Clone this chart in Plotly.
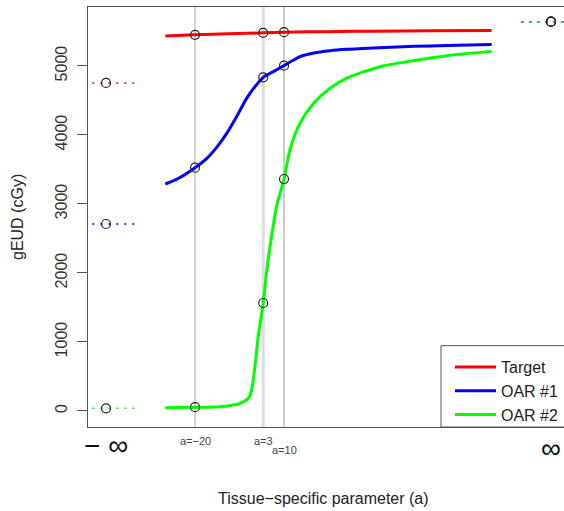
import plotly.graph_objects as go

# ---------------- data ----------------
target_a = [-30, -20, 3, 10, 25, 40, 60, 80]
target_v = [5435, 5452, 5480, 5490, 5498, 5505, 5510, 5515]

oar1_a = [-30, -26, -20, -16, -12.7, -9.3, -6, -2.6, 0.2, 3, 6.4, 10,
          15.4, 20, 25.5, 31, 42, 54, 65, 80]
oar1_v = [3290, 3362, 3526, 3662, 3821, 4024, 4265, 4531, 4700, 4836, 4918, 5005,
          5135, 5188, 5222, 5242, 5266, 5286, 5296, 5312]

oar2_a = [-30, -20, -11.6, -4.8, -2, -0.9, 0.2, 1.3, 3, 4.2, 5.8, 7.5, 10,
          12, 15.4, 20, 25.5, 31, 42.4, 54, 65, 80]
oar2_v = [48, 55, 62, 110, 184, 304, 642, 1077, 1565, 2043, 2526, 2961, 3362,
          3783, 4170, 4459, 4677, 4822, 4990, 5080, 5150, 5212]

ref_a = [-20, 3, 10]
ref_labels = ["a=\u221220", "a=3", "a=10"]
target_ref = [5452, 5480, 5490]
oar1_ref = [3526, 4836, 5005]
oar2_ref = [55, 1565, 3362]

neg_inf_pos = -50
pos_inf_pos = 100
neg_inf_vals = [4754, 2710, 39]     # Target, OAR #1, OAR #2 at a = -inf
pos_inf_vals = [5642, 5642, 5642]   # Target, OAR #1, OAR #2 at a = +inf
neg_seg = [-60, -40]
pos_seg = [90, 110]

names = ["Target", "OAR #1", "OAR #2"]
colors = ["#ff0000", "#0000ff", "#00ff00"]

y_ticks = [0, 1000, 2000, 3000, 4000, 5000]
x_range = [-56.07, 104.38]
y_range = [-232, 5855]

FONT = "Liberation Sans, Arial, Helvetica, sans-serif"

fig = go.Figure()

# reference vertical lines
for a, w, c in zip(ref_a, [1.5, 3, 1.5], ["#c4c4c4", "#dedede", "#bcbcbc"]):
    fig.add_vline(x=a, line=dict(color=c, width=w), layer="below")

curves = [(target_a, target_v), (oar1_a, oar1_v), (oar2_a, oar2_v)]
for (xa, yv), n, c in zip(curves, names, colors):
    fig.add_trace(go.Scatter(x=xa, y=yv, mode="lines", name=n,
                             line=dict(color=c, width=3, shape="spline", smoothing=0.7)))

# dotted limits at -inf and +inf
for i, c in enumerate(colors):
    fig.add_trace(go.Scatter(x=neg_seg, y=[neg_inf_vals[i]] * 2, mode="lines",
                             line=dict(color=c, width=1.5, dash="2px,6px"),
                             showlegend=False, hoverinfo="skip"))
    fig.add_trace(go.Scatter(x=pos_seg, y=[pos_inf_vals[i]] * 2, mode="lines",
                             line=dict(color=c, width=1.5, dash="2px,6px"),
                             showlegend=False, hoverinfo="skip"))

# circles
refs = [target_ref, oar1_ref, oar2_ref]
for i in range(3):
    fig.add_trace(go.Scatter(
        x=ref_a + [neg_inf_pos, pos_inf_pos],
        y=refs[i] + [neg_inf_vals[i], pos_inf_vals[i]],
        mode="markers",
        marker=dict(symbol="circle-open", size=9, color="#222",
                    line=dict(color="#222", width=1.2)),
        showlegend=False, hoverinfo="skip"))

# x-axis labels
annos = []
for a, t in zip(ref_a, ref_labels):
    yoff = -0.0548 if t == "a=10" else -0.0333
    annos.append(dict(x=a, y=yoff, xref="x", yref="paper", text=t, showarrow=False,
                      font=dict(size=11, color="#444", family=FONT),
                      xanchor="center", yanchor="middle"))
annos.append(dict(x=neg_inf_pos, y=-0.043, xref="x", yref="paper", text="\u2212 \u221e",
                  showarrow=False, font=dict(size=28, color="#111", family=FONT),
                  xanchor="center", yanchor="middle"))
annos.append(dict(x=pos_inf_pos, y=-0.052, xref="x", yref="paper", text="\u221e",
                  showarrow=False, font=dict(size=28, color="#111", family=FONT),
                  xanchor="center", yanchor="middle"))
annos.append(dict(x=(323 - 88) / 476, y=-(498 - 427) / 420, xref="paper", yref="paper",
                  text="Tissue\u2212specific parameter (a)", showarrow=False,
                  font=dict(size=16, color="#222", family=FONT),
                  xanchor="center", yanchor="middle"))
annos.append(dict(x=(17 - 88) / 476, y=0.5, xref="paper", yref="paper",
                  text="gEUD (cGy)", textangle=-90, showarrow=False,
                  font=dict(size=16, color="#222", family=FONT),
                  xanchor="center", yanchor="middle"))

# legend box
fig.add_shape(type="rect", xref="paper", yref="paper",
              x0=(441 - 88) / 476, x1=1.2, y0=0, y1=(427 - 345.7) / 420,
              line=dict(color="#555", width=1), fillcolor="white", layer="above")

fig.update_layout(
    width=564, height=511,
    margin=dict(l=88, r=0, t=7, b=84),
    paper_bgcolor="white", plot_bgcolor="white",
    font=dict(family=FONT, color="#333", size=16),
    annotations=annos,
    showlegend=True,
    legend=dict(x=(450 - 88) / 476, xanchor="left", y=(427 - 350) / 420, yanchor="top",
                bgcolor="rgba(0,0,0,0)", borderwidth=0, itemwidth=41,
                font=dict(size=16, color="#222", family=FONT),
                tracegroupgap=0),
    xaxis=dict(range=x_range, showgrid=False, zeroline=False, showticklabels=False,
               ticks="", showline=True, linecolor="#555", linewidth=1, mirror=True),
    yaxis=dict(range=y_range, showgrid=False, zeroline=False, tickvals=y_ticks,
               ticks="outside", ticklen=10, tickcolor="#555", tickangle=-90,
               tickfont=dict(size=16, color="#333", family=FONT),
               showline=True, linecolor="#555", linewidth=1, mirror=False,
               ticklabelstandoff=4),
)

fig.write_html("out.html")
